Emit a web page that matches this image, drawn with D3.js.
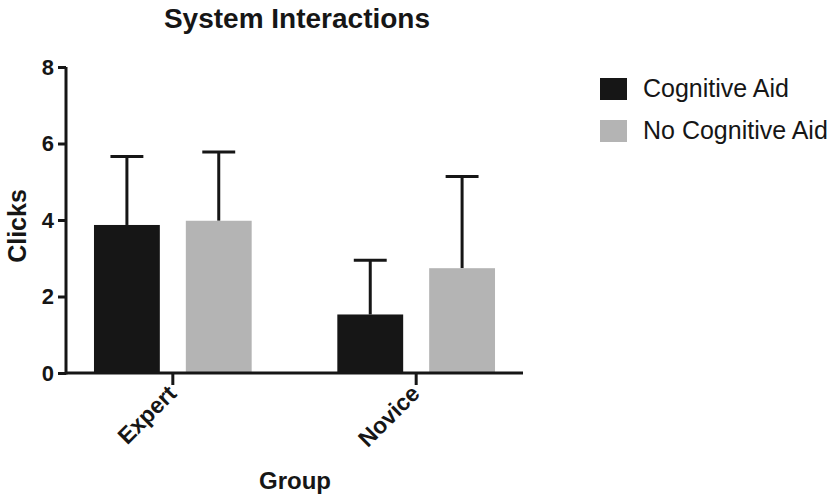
<!DOCTYPE html>
<html>
<head>
<meta charset="utf-8">
<script src="https://cdn.jsdelivr.net/npm/d3@7"></script>
<style>
  body { margin: 0; background: #fff; }
  text { font-family: "Liberation Sans", Arial, sans-serif; }
</style>
</head>
<body>
<svg width="834" height="498"></svg>
<script>
// data
var groups = ['Expert', 'Novice'];
var seriesNames = ['Cognitive Aid', 'No Cognitive Aid'];
var seriesColors = ['#161616', '#b4b4b4'];
var meanCA = [3.87, 1.53];
var sdCA = [1.79, 1.42];
var meanNCA = [3.98, 2.74];
var sdNCA = [1.80, 2.40];
var yTicks = [0, 2, 4, 6, 8];

var svg = d3.select('svg');
var padding = {t: 67, l: 66, r: 311, b: 125};
var plotW = 834 - padding.l - padding.r;
var plotH = 498 - padding.t - padding.b;

var chartG = svg.append('g')
    .attr('transform', 'translate(' + [padding.l, padding.t] + ')');

var xScale = d3.scaleBand().domain(groups).range([0, plotW]).paddingInner(0.352).paddingOuter(0.115);
var subScale = d3.scaleBand().domain(seriesNames).range([0, xScale.bandwidth()]).paddingInner(0.283);
var yScale = d3.scaleLinear().domain([0, 8]).range([plotH, 0]);

// rows per bar
var rows = [];
groups.forEach(function(g, i) {
    rows.push({group: g, series: seriesNames[0], mean: meanCA[i], sd: sdCA[i]});
    rows.push({group: g, series: seriesNames[1], mean: meanNCA[i], sd: sdNCA[i]});
});
var color = d3.scaleOrdinal().domain(seriesNames).range(seriesColors);

// error bars first so the bar covers the lower part
var errG = chartG.selectAll('.err')
    .data(rows)
    .enter()
    .append('g')
    .attr('class', 'err')
    .attr('transform', function(d) {
        return 'translate(' + [xScale(d.group) + subScale(d.series) + subScale.bandwidth() / 2, 0] + ')';
    });
errG.append('line')
    .attr('y1', function(d) { return yScale(d.mean); })
    .attr('y2', function(d) { return yScale(d.mean + d.sd); })
    .attr('stroke', '#161616')
    .attr('stroke-width', 3);
errG.append('line')
    .attr('x1', -subScale.bandwidth() / 4)
    .attr('x2', subScale.bandwidth() / 4)
    .attr('y1', function(d) { return yScale(d.mean + d.sd); })
    .attr('y2', function(d) { return yScale(d.mean + d.sd); })
    .attr('stroke', '#161616')
    .attr('stroke-width', 3);

chartG.selectAll('.bar')
    .data(rows)
    .enter()
    .append('rect')
    .attr('class', 'bar')
    .attr('x', function(d) { return xScale(d.group) + subScale(d.series); })
    .attr('y', function(d) { return yScale(d.mean); })
    .attr('width', subScale.bandwidth())
    .attr('height', function(d) { return plotH - yScale(d.mean); })
    .style('fill', function(d) { return color(d.series); });

// axes
var yAxis = d3.axisLeft(yScale).tickValues(yTicks).tickSize(8).tickPadding(4);
var yAxisG = chartG.append('g').call(yAxis);
yAxisG.select('.domain').attr('d', 'M0,' + (plotH + 1.5) + 'V0').attr('stroke', '#161616').attr('stroke-width', 3);
yAxisG.selectAll('.tick line').attr('stroke', '#161616').attr('stroke-width', 3);
yAxisG.selectAll('.tick text')
    .attr('font-size', 22).attr('font-weight', 'bold').attr('fill', '#161616')
    .attr('font-family', '"Liberation Sans", Arial, sans-serif');

var xAxis = d3.axisBottom(xScale).tickSize(12).tickPadding(6);
var xAxisG = chartG.append('g')
    .attr('transform', 'translate(' + [0, plotH] + ')')
    .call(xAxis);
xAxisG.select('.domain').attr('d', 'M0,0H' + plotW).attr('stroke', '#161616').attr('stroke-width', 3);
xAxisG.selectAll('.tick line').attr('stroke', '#161616').attr('stroke-width', 3);
xAxisG.selectAll('.tick text')
    .attr('font-size', 23).attr('font-weight', 'bold').attr('fill', '#161616')
    .attr('font-family', '"Liberation Sans", Arial, sans-serif')
    .attr('text-anchor', 'end')
    .attr('dy', 0)
    .attr('y', 0)
    .attr('transform', 'translate(5,22) rotate(-45)');

// title and axis labels
svg.append('text')
    .attr('x', 297).attr('y', 28)
    .attr('text-anchor', 'middle')
    .attr('font-size', 28).attr('font-weight', 'bold').attr('fill', '#161616')
    .text('System Interactions');
svg.append('text')
    .attr('transform', 'translate(' + [26, 226] + ') rotate(-90)')
    .attr('text-anchor', 'middle')
    .attr('font-size', 25).attr('font-weight', 'bold').attr('fill', '#161616')
    .text('Clicks');
svg.append('text')
    .attr('x', 295).attr('y', 489)
    .attr('text-anchor', 'middle')
    .attr('font-size', 24).attr('font-weight', 'bold').attr('fill', '#161616')
    .text('Group');

// legend
var legendG = svg.append('g').attr('transform', 'translate(' + [600, 78] + ')');
var legendItems = legendG.selectAll('.legend')
    .data(seriesNames)
    .enter()
    .append('g')
    .attr('transform', function(d, i) { return 'translate(' + [0, i * 42] + ')'; });
legendItems.append('rect')
    .attr('width', 27).attr('height', 22)
    .style('fill', function(d) { return color(d); });
legendItems.append('text')
    .attr('x', 43).attr('y', 19)
    .attr('font-size', 25).attr('fill', '#161616')
    .text(function(d) { return d; });
</script>
</body>
</html>
